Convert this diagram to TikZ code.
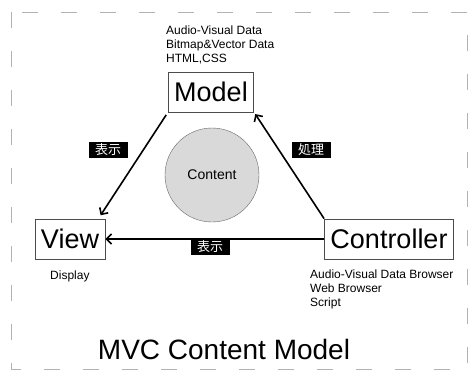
\documentclass[tikz,border=0pt]{standalone}
\usepackage{fontspec}
\setmainfont{Liberation Sans}
\newfontfamily\jpfont{Noto Sans CJK JP}
\usetikzlibrary{arrows.meta}
\begin{document}
\begin{tikzpicture}
[x=1pt,y=-1pt,
  partbox/.style={shape=rectangle,draw=black!70,line width=0.8pt,inner xsep=6pt,
    minimum height=40pt,font=\fontsize{27}{32}\selectfont},%
  tagbox/.style={shape=rectangle,fill=black,text=white,inner sep=1pt,
    minimum width=39pt,minimum height=16pt,font=\jpfont\fontsize{13}{15}\selectfont},%
  infotext/.style={inner sep=0pt,align=left,font=\fontsize{12}{14}\selectfont},%
  linedecorate/.style={-{Straight Barb[length=5pt,width=10pt]},line width=1.6pt}]
\useasboundingbox (0,0) rectangle (468,370);
% dashed frame
\draw[gray!60,line width=0.8pt,dash pattern=on 16pt off 23pt] (11,12) rectangle (467,369);
%%% MVC triangle
% nodes
\node (model) at (211,92) [partbox] {Model};
\node (view) at (70,239) [partbox] {View};
\node (controller) at (389,239) [partbox] {Controller};
\node (content) at (212,175) [shape=circle,draw=black!60,fill=gray!30,
  minimum size=94pt,font=\fontsize{14}{16}\selectfont] {Content};
% texts
\node (modelinfo) at (166,26) [infotext,anchor=north west]
  {Audio-Visual Data\\Bitmap\&Vector Data\\HTML,CSS};
\node (viewinfo) at (50,271) [infotext,anchor=north west] {Display};
\node (controllerinfo) at (310,270) [infotext,anchor=north west]
  {Audio-Visual Data Browser\\Web Browser\\Script};
\node (title) at (224,359) [anchor=base,font=\fontsize{28}{32}\selectfont] {MVC Content Model};
% edges
\draw[linedecorate,shorten <=3pt,shorten >=4pt] (model.south west) -- ([xshift=-7pt]view.north east);
\draw[linedecorate,shorten >=2pt] (controller.north west) -- (model.south east);
\draw[linedecorate] (controller.west) -- (view.east);
% labels on edges
\node (show1) at (108,150) [tagbox] {表示};
\node (process) at (311,150) [tagbox] {処理};
\node (show2) at (210,247) [tagbox] {表示};
\end{tikzpicture}
\end{document}
